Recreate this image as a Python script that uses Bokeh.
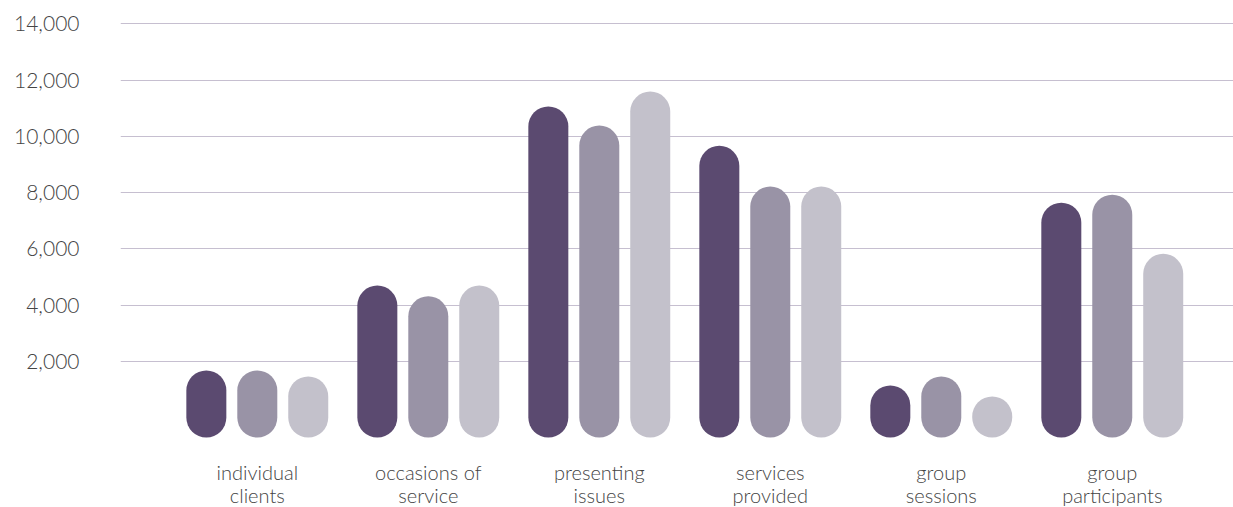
from bokeh.plotting import figure
from bokeh.models import FixedTicker, NumeralTickFormatter, ColumnDataSource
from bokeh.core.properties import value
from bokeh.embed import file_html
from bokeh.resources import INLINE

categories = ["individual\nclients", "occasions of\nservice", "presenting\nissues",
              "services\nprovided", "group\nsessions", "group\nparticipants"]
series_a = [960, 3980, 10350, 8950, 430, 6930]
series_b = [960, 3600, 9670, 7500, 750, 7210]
series_c = [750, 3980, 10880, 7500, 40, 5110]
tick_values = [2000, 4000, 6000, 8000, 10000, 12000, 14000]

colors = ["#5b4a70", "#9993a6", "#c3c1cb"]
FONT = "'Lato Light', Lato"

p = figure(width=1233, height=507, output_backend="svg", toolbar_location=None,
           x_range=(-0.8, 5.709), y_range=(-3200, 14829),
           x_axis_location=None, min_border_left=120, min_border_right=0,
           min_border_top=0, min_border_bottom=0)
p.outline_line_color = None
p.xgrid.visible = False
p.ygrid.ticker = FixedTicker(ticks=tick_values)
p.ygrid.grid_line_color = "#c6bfd0"
p.ygrid.grid_line_width = 1

ax = p.yaxis[0]
ax.ticker = FixedTicker(ticks=tick_values)
ax.formatter = NumeralTickFormatter(format="0,0")
ax.axis_line_color = None
ax.major_tick_line_color = None
ax.minor_tick_line_color = None
ax.major_tick_out = 0
ax.major_label_standoff = 41
ax.major_label_text_font = FONT
ax.major_label_text_font_size = "21px"
ax.major_label_text_color = "#444444"

for j, vals in enumerate([series_a, series_b, series_c]):
    xs = [i + (j - 1) * 0.298 for i in range(len(categories))]
    src = ColumnDataSource(dict(x=xs, y0=[0] * len(vals), y1=vals))
    p.segment(x0="x", y0="y0", x1="x", y1="y1", source=src, line_width=40,
              line_cap="round", line_color=colors[j])

line1 = [c.split("\n")[0] for c in categories]
line2 = [c.split("\n")[1] for c in categories]
gx = list(range(len(categories)))
for lines, off in [(line1, 54), (line2, 77)]:
    p.text(x=gx, y=[0] * len(gx), text=lines, y_offset=off, text_align="center",
           text_baseline="middle", text_font=value(FONT), text_font_size="20px",
           text_color="#444444")

open("out.html", "w").write(file_html(p, INLINE))
